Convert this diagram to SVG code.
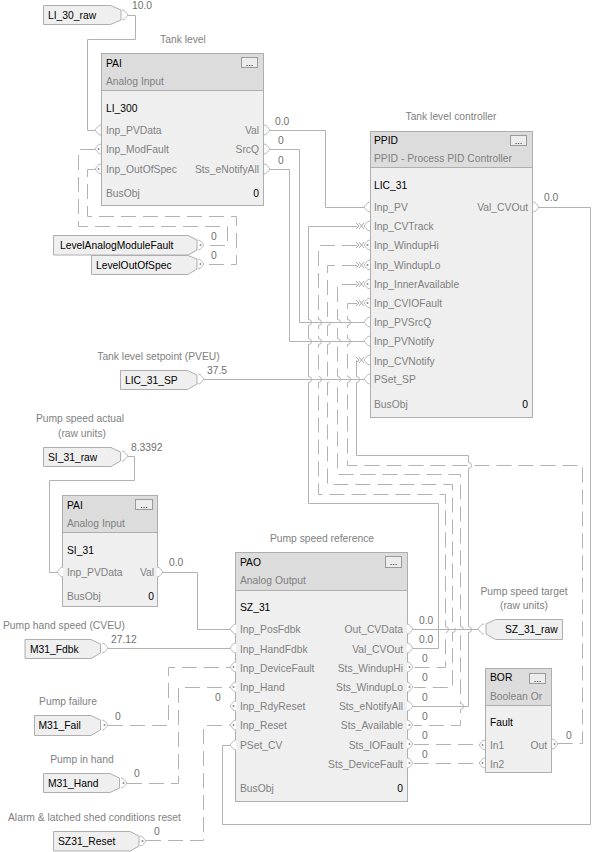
<svg xmlns="http://www.w3.org/2000/svg" xmlns:xlink="http://www.w3.org/1999/xlink" width="593" height="852" viewBox="0 0 593 852">
<style>
text{font-family:"Liberation Sans",Arial,sans-serif;font-size:10.3px;fill:#7f7f7f}
.n{fill:#000}
.e{text-anchor:end}
.m{text-anchor:middle}
.v{fill:#707070}
.b{fill:#efefef;stroke:#aeaeae;stroke-width:1}
.h{fill:#dcdcdc;stroke:#aeaeae;stroke-width:1}
.btn{fill:#ececec;stroke:#9a9a9a;stroke-width:1}
.w{fill:none;stroke:#b2b2b2;stroke-width:1}
.d{stroke-dasharray:15 7}
.p{fill:#fff;stroke:#b8b8b8;stroke-width:1}
.pd{fill:#8a8a8a}
.x{fill:none;stroke:#aaa;stroke-width:1}
</style>
<defs>
<g id="pl"><path class="p" d="M0 -5C-3 -5-4 -2-6 0C-4 2-3 5 0 5"/></g>
<g id="pr"><path class="p" d="M0 -5C3 -5 4 -2 6 0C4 2 3 5 0 5"/></g>
<g id="pld"><use href="#pl"/><circle class="pd" cx="-2.5" cy="0" r="1"/></g>
<g id="prd"><use href="#pr"/><circle class="pd" cx="2.5" cy="0" r="1"/></g>
<path id="xx" class="x" d="M-5 -3l3 3-3 3M-2 -3l5 6M-2 3l5 -6"/>
</defs>
<rect width="593" height="852" fill="#fff"/>
<g id="connectors">
<path class="w" d="M128 15.500H135.500V39.500H87.500V130.500H95"/>
<path class="w d" d="M95 149.500H78.500V226.500H227.500V245.500H204"/>
<path class="w d" d="M95 169.500H87.500V216.500H236.500V264.500H204"/>
<path class="w" d="M270 130.500H325.500V207.500H364"/>
<path class="w" d="M270 149.500H299.500V322.500H364"/>
<path class="w" d="M270 169.500H289.500V341.500H364"/>
<path class="w" d="M204 379.500H364"/>
<path class="w" d="M539 207.500H590.500V824.500H222.500V745.500H230"/>
<path class="w" d="M357 226.500H308.500V319.500a3 3 0 0 1 0 6V338.500a3 3 0 0 1 0 6V376.500a3 3 0 0 1 0 6V503.500H438.500V648.500H413"/>
<path class="w d" d="M357 245.500H318.500V319.500a3 3 0 0 1 0 6V338.500a3 3 0 0 1 0 6V376.500a3 3 0 0 1 0 6V494.500H445.500V626.500a3 3 0 0 1 0 6V667.500H414"/>
<path class="w d" d="M357 265.500H327.500V319.500a3 3 0 0 1 0 6V338.500a3 3 0 0 1 0 6V376.500a3 3 0 0 1 0 6V484.500H452.500V626.500a3 3 0 0 1 0 6V687.500H414"/>
<path class="w d" d="M357 284.500H337.500V319.500a3 3 0 0 1 0 6V338.500a3 3 0 0 1 0 6V376.500a3 3 0 0 1 0 6V474.500H460.500V626.500a3 3 0 0 1 0 6V703.500a3 3 0 0 1 0 6V725.500H414"/>
<path class="w d" d="M357 303.500H347.500V319.500a3 3 0 0 1 0 6V338.500a3 3 0 0 1 0 6V376.500a3 3 0 0 1 0 6V465.500H582.500V743.500H557"/>
<path class="w" d="M357 360.500H356.500V376.500a3 3 0 0 1 0 6V455.500H468.500V462.500a3 3 0 0 1 0 6V626.500a3 3 0 0 1 0 6V706.500H413"/>
<path class="w" d="M413 629.500H478"/>
<path class="w" d="M128 456.500H134.500V480.500H49.500V572.500H57"/>
<path class="w" d="M163 572.500H197.500V629.500H230"/>
<path class="w" d="M108 648.500H230"/>
<path class="w d" d="M108 725.500H168.500V667.500H230"/>
<path class="w d" d="M127 783.500H178.500V687.500H230"/>
<path class="w d" d="M146 840.500H203.500V725.500H230"/>
<path class="w d" d="M414 744.500H479"/>
<path class="w d" d="M414 763.500H479"/>
</g>
<g id="node-LI_30_raw"><path class="b" d="M43.500 5.500H110.500L121 10V20L110.500 24.500H43.500Z"/><use href="#pr" x="122" y="15"/><text class="n" x="48" y="19">LI_30_raw</text><text class="v" x="132" y="9">10.0</text></g>
<g id="node-LI_300">
<text class="m" x="183" y="43">Tank level</text>
<rect class="b" x="101.500" y="53.500" width="162" height="152"/><rect class="h" x="101.500" y="53.500" width="162" height="37"/>
<rect class="btn" x="241.500" y="57.500" width="16" height="10"/><text class="n m" x="249.500" y="66" style="font-size:9px">...</text>
<text class="n" x="106" y="67">PAI</text><text x="106" y="85">Analog Input</text><text class="n" x="106" y="112">LI_300</text>
<use href="#pl" x="101" y="130"/><use href="#pld" x="101" y="149"/><use href="#pld" x="101" y="169"/>
<use href="#pr" x="264" y="130"/><use href="#pr" x="264" y="149"/><use href="#pr" x="264" y="169"/>
<text x="106" y="134">Inp_PVData</text><text x="106" y="153">Inp_ModFault</text><text x="106" y="173">Inp_OutOfSpec</text><text x="106" y="197">BusObj</text>
<text class="e" x="259" y="134">Val</text><text class="e" x="259" y="153">SrcQ</text><text class="e" x="259" y="173">Sts_eNotifyAll</text><text class="n e" x="259" y="197">0</text>
<text class="v" x="275" y="125">0.0</text><text class="v" x="278" y="144">0</text><text class="v" x="278" y="164">0</text>
</g>
<g id="node-LevelAnalogModuleFault"><path class="b" d="M53.500 235.500H188L197 240V250L188 255H53.500Z"/><use href="#prd" x="198" y="245"/><text class="n" x="60" y="249">LevelAnalogModuleFault</text><text class="v" x="211" y="240">0</text></g>
<g id="node-LevelOutOfSpec"><path class="b" d="M91.500 255.500H188L197 259V269L188 274.500H91.500Z"/><use href="#prd" x="198" y="264"/><text class="n" x="96" y="269">LevelOutOfSpec</text><text class="v" x="211" y="259">0</text></g>
<g id="node-LIC_31">
<text class="m" x="451" y="120">Tank level controller</text>
<rect class="b" x="370.500" y="131.500" width="162" height="286"/><rect class="h" x="370.500" y="131.500" width="162" height="36"/>
<rect class="btn" x="510.500" y="135.500" width="16" height="10"/><text class="n m" x="518.500" y="144" style="font-size:9px">...</text>
<text class="n" x="374" y="144">PPID</text><text x="374" y="162">PPID - Process PID Controller</text><text class="n" x="374" y="189">LIC_31</text>
<use href="#pl" x="370" y="207"/><use href="#pl" x="370" y="226"/><use href="#pld" x="370" y="245"/><use href="#pld" x="370" y="265"/><use href="#pld" x="370" y="284"/><use href="#pld" x="370" y="303"/><use href="#pl" x="370" y="322"/><use href="#pl" x="370" y="341"/><use href="#pl" x="370" y="360"/><use href="#pl" x="370" y="379"/>
<use href="#xx" x="361" y="226"/><use href="#xx" x="361" y="245"/><use href="#xx" x="361" y="265"/><use href="#xx" x="361" y="284"/><use href="#xx" x="361" y="303"/><use href="#xx" x="361" y="360"/>
<use href="#pr" x="533" y="207"/>
<text x="374" y="211">Inp_PV</text><text x="374" y="230">Inp_CVTrack</text><text x="374" y="249">Inp_WindupHi</text><text x="374" y="269">Inp_WindupLo</text><text x="374" y="288">Inp_InnerAvailable</text><text x="374" y="307">Inp_CVIOFault</text><text x="374" y="326">Inp_PVSrcQ</text><text x="374" y="345">Inp_PVNotify</text><text x="374" y="365">Inp_CVNotify</text><text x="374" y="383">PSet_SP</text><text x="374" y="408">BusObj</text>
<text class="e" x="528" y="211">Val_CVOut</text><text class="n e" x="528" y="408">0</text><text class="v" x="544" y="201">0.0</text>
</g>
<g id="node-LIC_31_SP"><text class="m" x="158.500" y="360">Tank level setpoint (PVEU)</text><path class="b" d="M120.500 370.500H187.500L197 375V384L187.500 389.500H120.500Z"/><use href="#pr" x="198" y="379"/><text class="n" x="125" y="384">LIC_31_SP</text><text class="v" x="207" y="374">37.5</text></g>
<g id="node-SI_31_raw"><text class="m" x="80" y="422">Pump speed actual</text><text class="m" x="82" y="437">(raw units)</text><path class="b" d="M43.500 447.500H111L120.500 452V461L111 466.500H43.500Z"/><use href="#pr" x="122" y="456"/><text class="n" x="48" y="461">SI_31_raw</text><text class="v" x="131" y="451">8.3392</text></g>
<g id="node-SI_31">
<rect class="b" x="62.500" y="495.500" width="95" height="111"/><rect class="h" x="62.500" y="495.500" width="95" height="37"/>
<rect class="btn" x="135.500" y="499.500" width="17" height="10"/><text class="n m" x="144" y="508" style="font-size:9px">...</text>
<text class="n" x="67" y="509">PAI</text><text x="67" y="527">Analog Input</text><text class="n" x="67" y="554">SI_31</text>
<use href="#pl" x="63" y="572"/><use href="#pr" x="157" y="572"/>
<text x="67" y="576">Inp_PVData</text><text class="e" x="154" y="576">Val</text><text x="67" y="600">BusObj</text><text class="n e" x="154" y="600">0</text><text class="v" x="169" y="566">0.0</text>
</g>
<g id="node-SZ_31">
<text class="m" x="322" y="542">Pump speed reference</text>
<rect class="b" x="235.500" y="552.500" width="172" height="249"/><rect class="h" x="235.500" y="552.500" width="172" height="38"/>
<rect class="btn" x="385.500" y="556.500" width="16" height="11"/><text class="n m" x="393.500" y="565" style="font-size:9px">...</text>
<text class="n" x="240" y="566">PAO</text><text x="240" y="584">Analog Output</text><text class="n" x="240" y="611">SZ_31</text>
<use href="#pl" x="236" y="629"/><use href="#pl" x="236" y="648"/><use href="#pld" x="236" y="667"/><use href="#pld" x="236" y="687"/><use href="#pld" x="236" y="706"/><use href="#pld" x="236" y="725"/><use href="#pl" x="236" y="745"/>
<use href="#pr" x="407" y="629"/><use href="#pr" x="407" y="648"/><use href="#prd" x="407" y="667"/><use href="#prd" x="407" y="687"/><use href="#pr" x="407" y="706"/><use href="#prd" x="407" y="725"/><use href="#prd" x="407" y="744"/><use href="#prd" x="407" y="763"/>
<text x="240" y="633">Inp_PosFdbk</text><text x="240" y="653">Inp_HandFdbk</text><text x="240" y="672">Inp_DeviceFault</text><text x="240" y="691">Inp_Hand</text><text x="240" y="710">Inp_RdyReset</text><text x="240" y="729">Inp_Reset</text><text x="240" y="749">PSet_CV</text><text x="240" y="792">BusObj</text>
<text class="e" x="403" y="633">Out_CVData</text><text class="e" x="403" y="653">Val_CVOut</text><text class="e" x="403" y="672">Sts_WindupHi</text><text class="e" x="403" y="691">Sts_WindupLo</text><text class="e" x="403" y="710">Sts_eNotifyAll</text><text class="e" x="403" y="729">Sts_Available</text><text class="e" x="403" y="749">Sts_IOFault</text><text class="e" x="403" y="768">Sts_DeviceFault</text><text class="n e" x="403" y="792">0</text>
<text class="v" x="419" y="624">0.0</text><text class="v" x="419" y="643">0.0</text><text class="v" x="422" y="662">0</text><text class="v" x="422" y="681">0</text><text class="v" x="422" y="701">0</text><text class="v" x="422" y="720">0</text><text class="v" x="422" y="739">0</text><text class="v" x="422" y="758">0</text><text class="v" x="215" y="701">0</text>
</g>
<g id="node-SZ_31_raw"><text class="m" x="524" y="595">Pump speed target</text><text class="m" x="524" y="609">(raw units)</text><path class="b" d="M562.500 619.500H495.500L486 624V634L495.500 639.500H562.500Z"/><use href="#pl" x="484" y="629"/><text class="n" x="505" y="633">SZ_31_raw</text></g>
<g id="node-Fault">
<rect class="b" x="485.500" y="668.500" width="66" height="104"/><rect class="h" x="485.500" y="668.500" width="66" height="37"/>
<rect class="btn" x="529.500" y="673.500" width="16" height="10"/><text class="n m" x="537.500" y="682" style="font-size:9px">...</text>
<text class="n" x="490" y="681">BOR</text><text x="490" y="700">Boolean Or</text><text class="n" x="490" y="726">Fault</text>
<use href="#pld" x="485" y="745"/><use href="#pld" x="485" y="763"/><use href="#prd" x="552" y="744"/>
<text x="490" y="749">In1</text><text x="490" y="768">In2</text><text class="e" x="547" y="749">Out</text><text class="v" x="566" y="739">0</text>
</g>
<g id="node-M31_Fdbk"><text x="3" y="629">Pump hand speed (CVEU)</text><path class="b" d="M25 639.500H91L100.500 644V653L91 658.500H25Z"/><use href="#pr" x="102" y="648"/><text class="n" x="30" y="653">M31_Fdbk</text><text class="v" x="111" y="643">27.12</text></g>
<g id="node-M31_Fail"><text class="m" x="68" y="705">Pump failure</text><path class="b" d="M34.500 715.500H91L100.500 720V730L91 735.500H34.500Z"/><use href="#prd" x="102" y="725"/><text class="n" x="38.500" y="729">M31_Fail</text><text class="v" x="115" y="720">0</text></g>
<g id="node-M31_Hand"><text class="m" x="82" y="763">Pump in hand</text><path class="b" d="M43.500 773.500H110L119.500 778V788L110 792.500H43.500Z"/><use href="#prd" x="121" y="783"/><text class="n" x="48" y="787">M31_Hand</text><text class="v" x="134" y="777">0</text></g>
<g id="node-SZ31_Reset"><text x="8" y="821">Alarm &amp; latched shed conditions reset</text><path class="b" d="M53.500 831.500H130L139 836V846L130 851H53.500Z"/><use href="#prd" x="140" y="841"/><text class="n" x="58" y="845">SZ31_Reset</text><text class="v" x="154" y="835">0</text></g>
</svg>
